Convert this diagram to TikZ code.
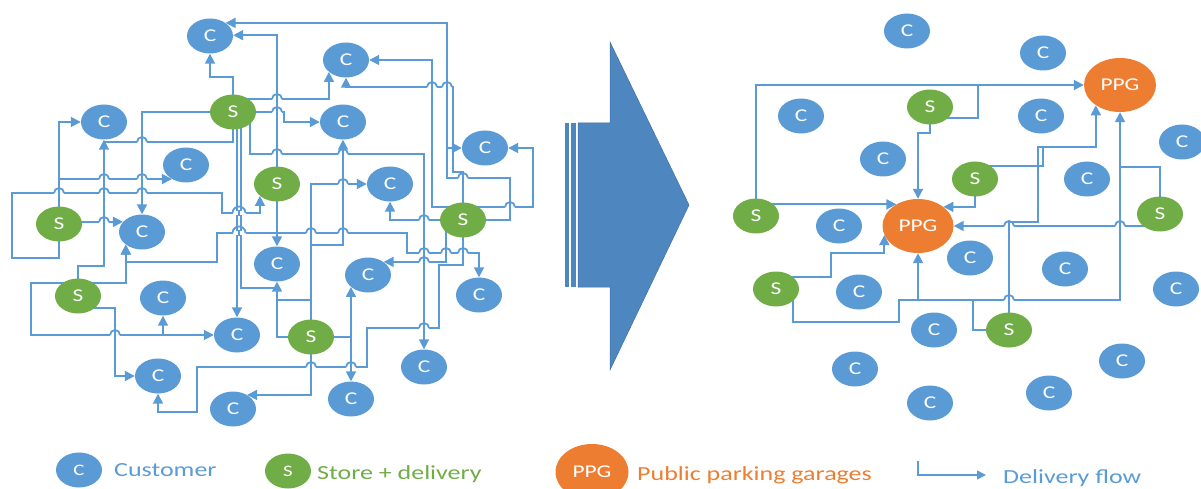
\documentclass[tikz,border=0pt]{standalone}
\usepackage{fontspec}
\setmainfont{Carlito}[FakeStretch=1.3]
\usetikzlibrary{arrows.meta,shapes.geometric}
\pgfdeclarelayer{bg}
\pgfsetlayers{bg,main}
\definecolor{cblue}{RGB}{91,155,213}
\definecolor{sgreen}{RGB}{112,173,71}
\definecolor{porange}{RGB}{237,125,49}
\definecolor{bigarrow}{RGB}{78,134,192}
\definecolor{bigedge}{RGB}{65,113,160}
\tikzset{
  blob/.style={ellipse, inner sep=0pt, text=white, minimum width=46pt, minimum height=35pt,
    font=\fontsize{18}{18}\selectfont},
  cust/.style={blob, fill=cblue},
  store/.style={blob, fill=sgreen},
  ppg/.style={blob, fill=porange, minimum width=72pt, minimum height=54pt},
  conn/.style={draw=cblue, line width=1.8pt},
  flowarr/.style={conn, -{Triangle[length=10pt,width=10pt]}},
  legtext/.style={anchor=base west, inner sep=0pt, font=\fontsize{20}{20}\selectfont},
}
% a line jumping over a vertical line at (x,y)
\newcommand{\hopover}[3][5]{%
  \fill[white] (#2-#1,#3-2.4) rectangle (#2+#1,#3+2.4);
  \draw[conn] (#2,#3-2.8) -- (#2,#3+2.8);
  \draw[conn] (#2-#1,#3) arc[start angle=180,end angle=0,radius=#1pt];}
\begin{document}
\begin{tikzpicture}[x=1pt,y=-1pt]
\useasboundingbox (0,0) rectangle (1201,489);

% ---------- left network: customers ----------
\node[cust] (c1) at (210,36) {C};
\node[cust] (c2) at (346,60) {C};
\node[cust] (c3) at (104,122) {C};
\node[cust] (c4) at (343,122) {C};
\node[cust] (c5) at (186,165) {C};
\node[cust] (c6) at (485,148) {C};
\node[cust] (c7) at (390,184) {C};
\node[cust] (c8) at (142,232) {C};
\node[cust] (c9) at (277,264) {C};
\node[cust] (c10) at (368,275) {C};
\node[cust] (c11) at (479,295) {C};
\node[cust] (c12) at (163,298) {C};
\node[cust] (c13) at (237,335) {C};
\node[cust] (c14) at (424,367) {C};
\node[cust] (c15) at (158,376) {C};
\node[cust] (c16) at (233,409) {C};
\node[cust] (c17) at (351,399) {C};
% ---------- left network: stores ----------
\node[store] (s1) at (233,112) {S};
\node[store] (s2) at (277,184) {S};
\node[store] (s3) at (59,224) {S};
\node[store] (s4) at (78,296) {S};
\node[store] (s5) at (311,337) {S};
\node[store] (s6) at (463,220) {S};

% ---------- big transition arrow ----------
\fill[bigarrow, draw=bigedge, line width=0.5pt]
  (578,123) -- (610,123) -- (610,42) -- (689,205) -- (610,370) -- (610,287) -- (578,287) -- cycle;
\fill[bigarrow] (565,123) rectangle (569,287);
\fill[bigarrow] (571,123) rectangle (576,287);

% ---------- right network ----------
\node[cust] (r1) at (907,31) {C};
\node[cust] (r2) at (1043,53) {C};
\node[cust] (r3) at (801,116) {C};
\node[cust] (r4) at (1041,116) {C};
\node[cust] (r5) at (1182,142) {C};
\node[cust] (r6) at (883,159) {C};
\node[cust] (r7) at (1087,179) {C};
\node[cust] (r8) at (839,226) {C};
\node[cust] (r9) at (970,258) {C};
\node[cust] (r10) at (1065,269) {C};
\node[cust] (r11) at (859,292) {C};
\node[cust] (r12) at (1176,289) {C};
\node[cust] (r13) at (934,330) {C};
\node[cust] (r14) at (855,369) {C};
\node[cust] (r15) at (1122,361) {C};
\node[cust] (r16) at (1049,393) {C};
\node[cust] (r17) at (930,403) {C};
\node[store] (rs1) at (756,216) {S};
\node[store] (rs2) at (930,107) {S};
\node[store] (rs3) at (975,179) {S};
\node[store] (rs4) at (1160,214) {S};
\node[store] (rs5) at (1009,330) {S};
\node[store] (rs6) at (776,289) {S};
\node[ppg] (ppg1) at (1120,85) {PPG};
\node[ppg, minimum width=71pt] (ppg2) at (918,226) {PPG};

% ---------- legend ----------
\node[cust, font=\fontsize{16}{16}\selectfont] (lc) at (79,470) {C};
\node[legtext, text=cblue] (lct) at (114,476) {Customer};
\node[store, font=\fontsize{16}{16}\selectfont] (ls) at (288,471) {S};
\node[legtext, text=sgreen] (lst) at (317,479) {Store + delivery};
\node[ppg, minimum width=73pt, minimum height=56pt] (lp) at (592,472) {PPG};
\node[legtext, text=porange] (lpt) at (637,480) {Public parking garages};
\coordinate (lf1) at (918,461);
\coordinate (lf2) at (986,475);
\node[legtext, text=cblue] (lft) at (1003,483) {Delivery flow};

\begin{pgfonlayer}{bg}
% junctions
\coordinate (jA) at (447,178);
\coordinate (jR) at (1120,167);

% ---- left network flows ----
\draw[flowarr] (s6.center) -- (510,220) |- (jA) |- (c1.40);
\draw[flowarr] (jA) |- (c6.west);
\draw[flowarr] (s2.center) |- (c1.2);
\draw[flowarr] (s1.center) -- (233,77) -| (c1.south);
\draw[flowarr] (s1.center) -| (284,122) -- (c4.west);
\draw[flowarr] (s1.center) -| (250,154) -| (c14.north);
\draw[flowarr] (s1.center) -| (c8.north);
\draw[flowarr] ([yshift=13pt]s1.center) -| (c2.215);
\draw[conn] (s1.center) |- (104,142);
\draw[flowarr] ([xshift=4pt]s1.center) -- (c13.north);
\draw[conn] ([xshift=8pt]s1.center) |- (277,288);
\draw[flowarr] (s3.center) |- (c3.west);
\draw[flowarr] (s3.center) |- (c5.225);
\draw[flowarr] (s4.center) |- (104,266) -- (c3.south);
\draw[flowarr] (s3.center) |- (12,258) |- (222,193) |- (260,213) -- (s2.215);
\draw[flowarr] (s3.center) |- (c8.152);
\draw[flowarr] (s2.center) |- (407,233) |- (479,253) -- (c11.north);
\draw[flowarr] (s2.center) |- (217,233) |- (126,262) -- (c8.218);
\draw[flowarr] (s2.center) -- (c9.north);
\draw[flowarr] (s5.center) |- (343,245) -- (c4.south);
\draw[flowarr] (s5.center) |- (c7.west);
\draw[flowarr] (s5.center) -| (c9.south);
\draw[conn] (s5.center) |- (277,300);
\draw[flowarr] (s5.center) -| (c10.215);
\draw[flowarr] (s5.center) -| (c17.north);
\draw[flowarr] (s5.center) |- (c16.45);
\draw[flowarr] (s6.center) -| (c7.south);
\draw[flowarr] (s6.center) |- (432,207) |- (c2.east);
\draw[flowarr] (s6.center) |- (533,207) |- (c6.east);
\draw[flowarr] (s6.center) |- (453,172) -- (453,87) -| (c2.south);
\draw[flowarr] ([xshift=-17pt]s6.center) |- (c10.40);
\draw[flowarr] (s6.center) |- (439,265) |- (367,328) |- (197,367) |- (158,412) -- (c15.south);
\draw[flowarr] ([yshift=13pt]s4.center) -| (31,335) -| (c12.south);
\draw[flowarr] ([yshift=13pt]s4.center) -| (31,335) -- (c13.west);
\draw[flowarr] ([yshift=13pt]s4.center) -| (c8.218);
\draw[flowarr] ([yshift=-12pt]s4.center) -| (115,376) -- (c15.west);

% ---- right network flows ----
\draw[flowarr] (rs1.center) |- (ppg1.west);
\draw[flowarr] (rs1.center) |- (ppg2.135);
\draw[conn] ([yshift=-11pt]rs2.center) -| (978,85);
\draw[flowarr] (rs2.center) |- (918,133) -- (ppg2.north);
\draw[flowarr] (rs3.center) |- (ppg2.37);
\draw[flowarr] ([yshift=13pt]rs3.center) -| (1043,147) -| (ppg1.220);
\draw[conn] (rs5.center) |- (1038,222) |- (1096,147);
\draw[flowarr] (rs4.center) |- (jR) -- (ppg1.south);
\draw[flowarr] (jR) |- (918,300) -- (ppg2.south);
\draw[flowarr] ([yshift=-12pt]rs4.center) -- (ppg2.east);
\draw[flowarr] ([yshift=12pt]rs6.center) -| (831,253) -| (ppg2.195);
\draw[conn] ([xshift=17pt]rs6.center) |- (899,322) |- (918,300);
\draw[conn] (rs5.center) -| (973,300);

% ---- legend flow sample ----
\draw[draw=cblue, line width=1.4pt, -{Triangle[length=9pt,width=9pt]}] (lf1) |- (lf2);

% ---- line jumps at crossings ----
\hopover{277}{99}
\hopover{277}{112}
\hopover{277}{154}
\hopover{343}{154}
\hopover{463}{178}
\hopover{432}{87}
\hopover{447}{87}
\hopover{510}{207}
\hopover{424}{220}
\hopover{311}{233}
\hopover{343}{233}
\hopover{424}{253}
\hopover{446}{253}
\hopover{463}{253}
\hopover[6.5]{239}{233}
\hopover[6.5]{239}{213}
\hopover{59}{193}
\hopover{104}{193}
\hopover{142}{193}
\hopover{104}{179}
\hopover{142}{179}
\hopover{104}{222}
\hopover{142}{142}
\hopover{424}{262}
\hopover{424}{328}
\hopover{351}{367}
\hopover{311}{367}
\hopover{115}{335}
\hopover{343}{184}
\hopover{1009}{300}
\hopover{1009}{226}
\hopover{1120}{226}
\end{pgfonlayer}
\end{tikzpicture}
\end{document}
